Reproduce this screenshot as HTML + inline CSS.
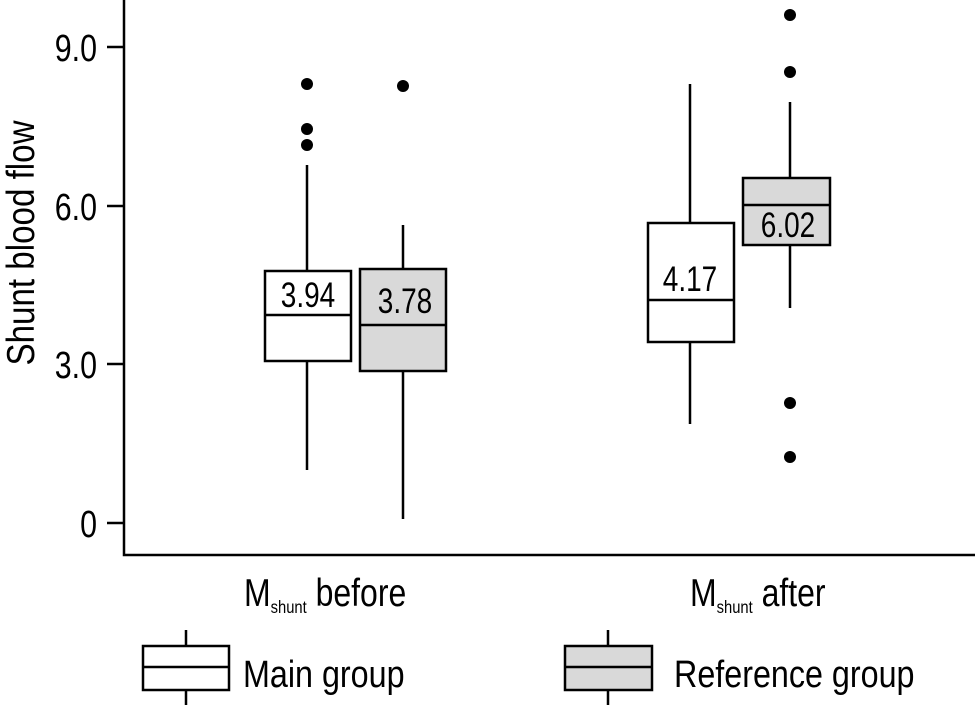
<!DOCTYPE html>
<html><head><style>html,body{margin:0;padding:0;background:#fff}</style></head><body>
<svg width="976" height="705" viewBox="0 0 976 705" xmlns="http://www.w3.org/2000/svg" font-family="Liberation Sans, sans-serif" fill="#000">
<g stroke="#000" stroke-width="2.5" fill="none">
<path d="M124,0 V555 H975"/>
<path d="M107,47 H124 M107,206 H124 M107,364 H124 M107,523 H124"/>
</g>
<g font-size="38" text-anchor="end">
<text transform="translate(97,61) scale(0.8,1)">9.0</text>
<text transform="translate(97,220) scale(0.8,1)">6.0</text>
<text transform="translate(97,378) scale(0.8,1)">3.0</text>
<text transform="translate(97,537) scale(0.8,1)">0</text>
</g>
<text transform="translate(34,243) rotate(-90) scale(0.85,1)" font-size="39" text-anchor="middle">Shunt blood flow</text>
<g stroke="#000" stroke-width="2.5">
<line x1="307" y1="165" x2="307" y2="470"/>
<rect x="265" y="271" width="86" height="90" fill="#fff"/>
<line x1="265" y1="315" x2="351" y2="315"/>
<line x1="403" y1="225" x2="403" y2="519"/>
<rect x="360" y="269" width="86" height="102" fill="#d9d9d9"/>
<line x1="360" y1="325" x2="446" y2="325"/>
<line x1="690" y1="84" x2="690" y2="424"/>
<rect x="648" y="223" width="86" height="119" fill="#fff"/>
<line x1="648" y1="300" x2="734" y2="300"/>
<line x1="790" y1="102" x2="790" y2="308"/>
<rect x="743" y="178" width="87" height="67" fill="#d9d9d9"/>
<line x1="743" y1="205" x2="830" y2="205"/>
</g>
<g>
<circle cx="307" cy="84" r="6"/><circle cx="307" cy="129" r="6"/><circle cx="307" cy="145" r="6"/>
<circle cx="403" cy="86" r="6"/>
<circle cx="790" cy="15" r="6"/><circle cx="790" cy="72" r="6"/><circle cx="790" cy="403" r="6"/><circle cx="790" cy="457" r="6"/>
</g>
<g font-size="35" text-anchor="middle">
<text transform="translate(308,307) scale(0.8,1)">3.94</text>
<text transform="translate(405,313) scale(0.8,1)">3.78</text>
<text transform="translate(690,291) scale(0.8,1)">4.17</text>
<text transform="translate(788,237) scale(0.8,1)">6.02</text>
</g>
<g font-size="39">
<text transform="translate(244,606) scale(0.82,1)">M<tspan font-size="18" dy="7">shunt</tspan><tspan dy="-7"> before</tspan></text>
<text transform="translate(690,606) scale(0.82,1)">M<tspan font-size="18" dy="7">shunt</tspan><tspan dy="-7"> after</tspan></text>
</g>
<g stroke="#000" stroke-width="2.5">
<line x1="186" y1="630" x2="186" y2="705"/>
<rect x="143" y="646" width="86" height="44" fill="#fff"/>
<line x1="143" y1="667" x2="229" y2="667"/>
<line x1="608" y1="630" x2="608" y2="705"/>
<rect x="565" y="646" width="87" height="44" fill="#d9d9d9"/>
<line x1="565" y1="667" x2="652" y2="667"/>
</g>
<g font-size="38">
<text transform="translate(243,687) scale(0.85,1)">Main group</text>
<text transform="translate(674,687) scale(0.85,1)">Reference group</text>
</g>
</svg>
</body></html>
